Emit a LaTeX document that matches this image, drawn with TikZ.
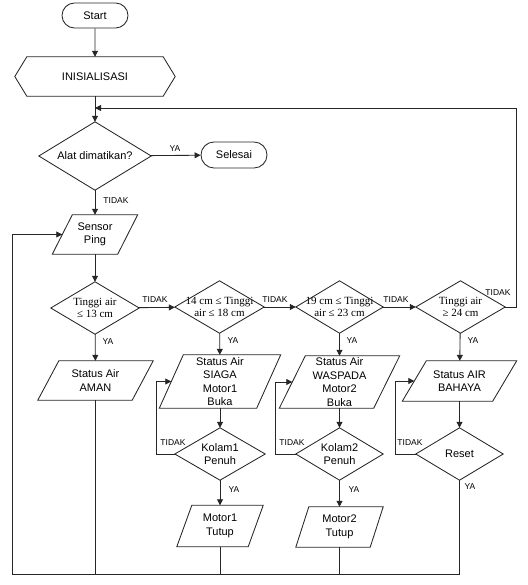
\documentclass[tikz,border=0pt]{standalone}
\usepackage{fontspec}
\setmainfont{Liberation Sans}
\newfontfamily\tnr{Liberation Serif}
\usetikzlibrary{arrows.meta,shapes.misc}
\newcommand{\mypara}[2]{\draw[con] ([xshift=#2*0.5pt]#1.north west) -- ([xshift=#2*0.5pt]#1.north east) -- ([xshift=-#2*0.5pt]#1.south east) -- ([xshift=-#2*0.5pt]#1.south west) -- cycle;}
\newcommand{\mydiam}[1]{\draw[con] (#1.north) -- (#1.east) -- (#1.south) -- (#1.west) -- cycle;}
\begin{document}
\begin{tikzpicture}[x=1pt,y=-1pt,
  every node/.style={font=\fontsize{11}{13.5}\selectfont, inner sep=0pt, align=center},
  con/.style={line width=0.85pt, draw=black!85},
  arr/.style={con, -{Triangle[length=6pt,width=6pt]}},
  term/.style={rounded rectangle, con, minimum height=25pt},
  blank/.style={rectangle, draw=none},
  lbl/.style={font=\fontsize{8.5}{10}\selectfont},
  serif/.style={font=\tnr\fontsize{11}{12.5}\selectfont}
]
\useasboundingbox (0,0) rectangle (527,585);

% nodes
\node[term, minimum width=66pt] (start) at (95,15.5) {Start};
\node[blank, minimum width=160pt, minimum height=39pt] (init) at (95,76.5) {INISIALISASI};
\draw[con] (init.west) -- ([xshift=12pt]init.north west) -- ([xshift=-12pt]init.north east) -- (init.east) -- ([xshift=-12pt]init.south east) -- ([xshift=12pt]init.south west) -- cycle;
\coordinate (j1) at (95,108);
\node[blank, minimum width=112pt, minimum height=68pt] (alat) at (95,156) {Alat dimatikan?};
\mydiam{alat}
\node[term, minimum width=66pt, minimum height=26pt] (selesai) at (234,155) {Selesai};
\node[blank, minimum width=65pt, minimum height=39pt] (sensor) at (95,234.5) {Sensor\\Ping};
\mypara{sensor}{20}

\node[blank, serif, minimum width=88pt, minimum height=52pt] (d1) at (95,308) {Tinggi air\\≤ 13 cm};
\node[blank, serif, minimum width=89pt, minimum height=52pt] (d2) at (219.5,307) {14 cm ≤ Tinggi\\air ≤ 18 cm};
\node[blank, serif, minimum width=87pt, minimum height=52pt] (d3) at (339.5,307) {19 cm ≤ Tinggi\\air ≤ 23 cm};
\node[blank, serif, minimum width=89pt, minimum height=52pt] (d4) at (460.5,307) {Tinggi air\\≥ 24 cm};
\mydiam{d1}\mydiam{d2}\mydiam{d3}\mydiam{d4}

\node[blank, minimum width=94pt, minimum height=39pt] (aman) at (95.5,380.5) {Status Air\\AMAN};
\node[blank, minimum width=97pt, minimum height=53pt] (siaga) at (220,381.5) {Status Air\\SIAGA\\Motor1\\Buka};
\node[blank, minimum width=94pt, minimum height=52pt] (waspada) at (339.5,382) {Status Air\\WASPADA\\Motor2\\Buka};
\node[blank, minimum width=90pt, minimum height=40pt] (bahaya) at (459.5,381) {Status AIR\\BAHAYA};
\mypara{aman}{21}\mypara{siaga}{24}\mypara{waspada}{26}\mypara{bahaya}{24}

\node[blank, minimum width=90pt, minimum height=52pt] (k1) at (220,454) {Kolam1\\Penuh};
\node[blank, minimum width=87pt, minimum height=52pt] (k2) at (339.5,454) {Kolam2\\Penuh};
\node[blank, minimum width=87pt, minimum height=52pt] (reset) at (459.5,454) {Reset};
\mydiam{k1}\mydiam{k2}\mydiam{reset}

\node[blank, minimum width=71pt, minimum height=41pt] (m1) at (220,526) {Motor1\\Tutup};
\node[blank, minimum width=74pt, minimum height=40pt] (m2) at (339.5,527) {Motor2\\Tutup};
\mypara{m1}{15}\mypara{m2}{13}

\coordinate (b0) at (12,574);
\coordinate (b4) at (459.5,574);

% connectors
\draw[arr] (start) -- (init);
\draw[arr] (init) -- (alat);
\draw[arr] (d4.east) -- ++(11.5,0) |- (j1);
\draw[arr] (alat) -- (selesai);
\draw[arr] (alat) -- (sensor);
\draw[arr] (sensor) -- (d1);
\draw[arr] (d1) -- (d2);
\draw[arr] (d2) -- (d3);
\draw[arr] (d3) -- (d4);
\draw[arr] (d1) -- (aman);
\draw[arr] (d2) -- (siaga);
\draw[arr] (d3) -- (waspada);
\draw[arr] (d4) -- (bahaya);
\draw[arr] (siaga) -- (k1);
\draw[arr] (waspada) -- (k2);
\draw[arr] (bahaya) -- (reset);
\draw[arr] (k1) -- (m1);
\draw[arr] (k2) -- (m2);
\draw[arr] (k1.west) -- ++(-18,0) |- (siaga.west);
\draw[arr] (k2.west) -- ++(-20,0) |- (waspada.west);
\draw[arr] (reset.west) -- ++(-20,0) |- (bahaya.west);
\draw[arr] (reset.south) -- (b4) -- (b0) |- (sensor.west);
\draw[con] (aman.south) -- (aman.south |- b0);
\draw[con] (m1.south) -- (m1.south |- b0);
\draw[con] (m2.south) -- (m2.south |- b0);

% labels
\node[lbl] at (175,149) {YA};
\node[lbl] at (116,201) {TIDAK};
\node[lbl] at (155,300) {TIDAK};
\node[lbl] at (275,300) {TIDAK};
\node[lbl] at (396,300) {TIDAK};
\node[lbl] at (498,293) {TIDAK};
\node[lbl] at (108,342) {YA};
\node[lbl] at (233,341) {YA};
\node[lbl] at (352,341) {YA};
\node[lbl] at (473,341) {YA};
\node[lbl] at (173,443) {TIDAK};
\node[lbl] at (292,443) {TIDAK};
\node[lbl] at (410,443) {TIDAK};
\node[lbl] at (234,490) {YA};
\node[lbl] at (354,490) {YA};
\node[lbl] at (470,487) {YA};
\end{tikzpicture}
\end{document}
